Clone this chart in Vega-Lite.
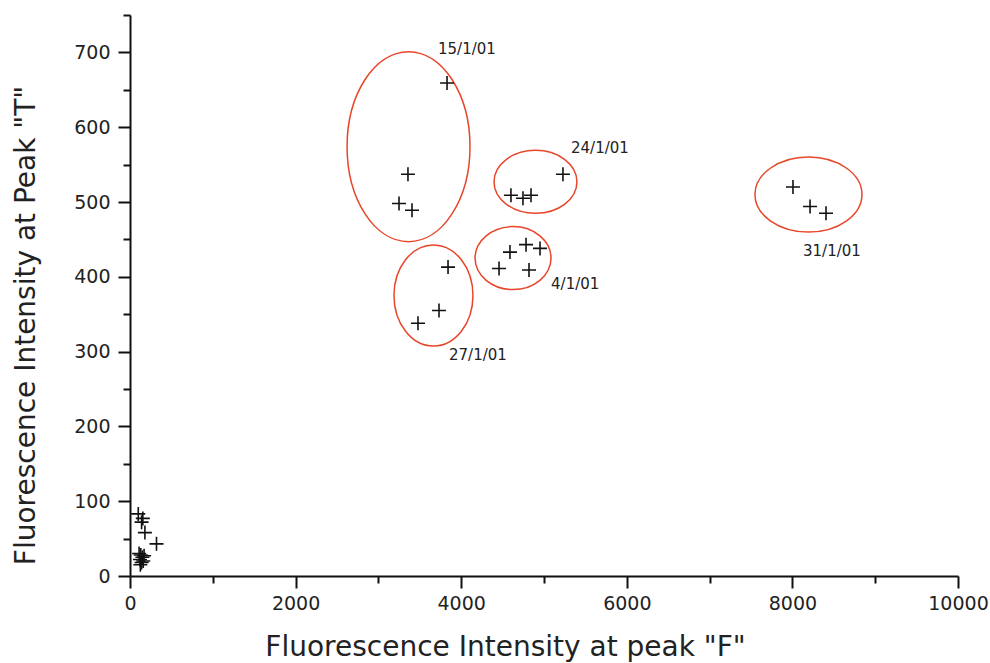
{
  "$schema": "https://vega.github.io/schema/vega-lite/v6.json",
  "autosize": "none",
  "width": 828,
  "height": 561,
  "padding": {"left": 130, "top": 15, "right": 32, "bottom": 87},
  "background": "white",
  "config": {
    "view": {"stroke": null},
    "axis": {
      "grid": false,
      "domainColor": "#111",
      "domainWidth": 2,
      "tickColor": "#111",
      "tickWidth": 2,
      "tickSize": 12,
      "labelFont": "DejaVu Sans",
      "labelFontSize": 19,
      "labelColor": "#222",
      "labelFlush": false,
      "titleFont": "DejaVu Sans",
      "titleFontSize": 28,
      "titleFontWeight": "normal",
      "titleColor": "#222"
    }
  },
  "datasets": {
    "pts": [
      {"x": 3829, "y": 659}, {"x": 3357, "y": 537}, {"x": 3249, "y": 498}, {"x": 3406, "y": 489},
      {"x": 3841, "y": 413}, {"x": 3732, "y": 355}, {"x": 3478, "y": 338},
      {"x": 4457, "y": 411}, {"x": 4589, "y": 433}, {"x": 4783, "y": 443}, {"x": 4952, "y": 438}, {"x": 4819, "y": 409},
      {"x": 5229, "y": 537}, {"x": 4601, "y": 509}, {"x": 4746, "y": 505}, {"x": 4843, "y": 509},
      {"x": 8007, "y": 520}, {"x": 8213, "y": 494}, {"x": 8406, "y": 485},
      {"x": 100, "y": 83}, {"x": 155, "y": 77}, {"x": 140, "y": 72}, {"x": 180, "y": 58}, {"x": 320, "y": 43},
      {"x": 110, "y": 30}, {"x": 130, "y": 28}, {"x": 150, "y": 25}, {"x": 120, "y": 22},
      {"x": 160, "y": 20}, {"x": 140, "y": 18}, {"x": 170, "y": 27}, {"x": 125, "y": 15}
    ],
    "groups": [
      {"label": "15/1/01", "cx": 3364, "cy": 574},
      {"label": "27/1/01", "cx": 3665, "cy": 375},
      {"label": "4/1/01", "cx": 4626, "cy": 425},
      {"label": "24/1/01", "cx": 4897, "cy": 527},
      {"label": "31/1/01", "cx": 8194, "cy": 510}
    ],
    "labels": [
      {"label": "15/1/01", "x": 3720, "y": 705},
      {"label": "24/1/01", "x": 5326, "y": 572},
      {"label": "4/1/01", "x": 5085, "y": 391},
      {"label": "27/1/01", "x": 3853, "y": 295},
      {"label": "31/1/01", "x": 8128, "y": 435}
    ]
  },
  "resolve": {"axis": {"x": "independent", "y": "independent"}},
  "layer": [
    {
      "data": {"name": "groups"},
      "mark": {"type": "point", "filled": false, "stroke": "#e8462a", "strokeWidth": 1.5, "opacity": 1},
      "encoding": {
        "x": {"field": "cx", "type": "quantitative", "scale": {"domain": [0, 10000], "nice": false},
          "axis": {"orient": "bottom", "values": [1000, 3000, 5000, 7000, 9000], "labels": false, "domain": false, "tickSize": 7, "title": null}},
        "y": {"field": "cy", "type": "quantitative", "scale": {"domain": [0, 750], "nice": false},
          "axis": {"orient": "left", "values": [50, 150, 250, 350, 450, 550, 650, 750], "labels": false, "domain": false, "tickSize": 7, "title": null}},
        "shape": {"field": "label", "type": "nominal", "legend": null,
          "scale": {"domain": ["15/1/01", "27/1/01", "4/1/01", "24/1/01", "31/1/01"],
            "range": [
              "M -0.647 0 A 0.647 1 0 1 0 0.647 0 A 0.647 1 0 1 0 -0.647 0 Z",
              "M -0.782 0 A 0.782 1 0 1 0 0.782 0 A 0.782 1 0 1 0 -0.782 0 Z",
              "M -1.206 0 A 1.206 1 0 1 0 1.206 0 A 1.206 1 0 1 0 -1.206 0 Z",
              "M -1.317 0 A 1.317 1 0 1 0 1.317 0 A 1.317 1 0 1 0 -1.317 0 Z",
              "M -1.427 0 A 1.427 1 0 1 0 1.427 0 A 1.427 1 0 1 0 -1.427 0 Z"
            ]}},
        "size": {"field": "label", "type": "nominal", "legend": null,
          "scale": {"type": "ordinal", "domain": ["15/1/01", "27/1/01", "4/1/01", "24/1/01", "31/1/01"],
            "range": [36100, 10201, 3969, 3969, 5625]}}
      }
    },
    {
      "data": {"name": "pts"},
      "mark": {"type": "point", "filled": false, "stroke": "#111", "strokeWidth": 1.6, "opacity": 1,
        "shape": "M -1 0 L 1 0 M 0 -1 L 0 1", "size": 196},
      "encoding": {
        "x": {"field": "x", "type": "quantitative", "scale": {"domain": [0, 10000], "nice": false},
          "axis": {"orient": "bottom", "values": [0, 2000, 4000, 6000, 8000, 10000], "format": "d",
            "labelPadding": 6, "title": "Fluorescence Intensity at peak \"F\"", "titlePadding": 20,
            "titleX": 375, "titleAnchor": "middle", "titleAlign": "center"}},
        "y": {"field": "y", "type": "quantitative", "scale": {"domain": [0, 750], "nice": false},
          "axis": {"orient": "left", "values": [0, 100, 200, 300, 400, 500, 600, 700], "format": "d",
            "labelPadding": 8, "title": "Fluorescence Intensity at Peak \"T\"", "titlePadding": 33,
            "titleY": 310, "titleAlign": "center"}}
      }
    },
    {
      "data": {"name": "labels"},
      "mark": {"type": "text", "align": "left", "baseline": "middle", "font": "DejaVu Sans", "fontSize": 15, "color": "#222"},
      "encoding": {
        "x": {"field": "x", "type": "quantitative", "axis": null},
        "y": {"field": "y", "type": "quantitative", "axis": null},
        "text": {"field": "label"}
      }
    }
  ]
}
